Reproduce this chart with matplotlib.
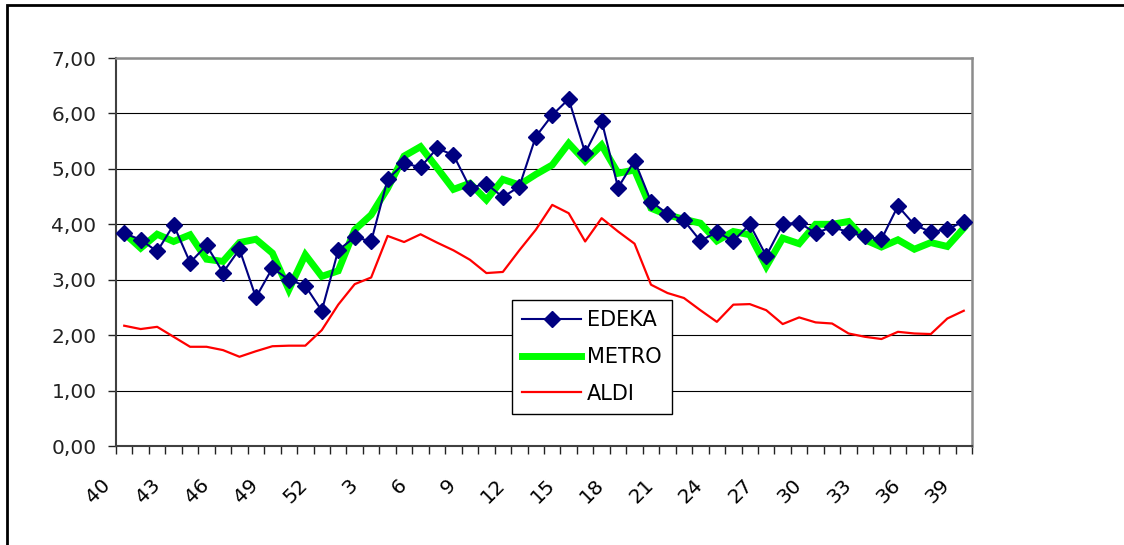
import numpy as np
import matplotlib
matplotlib.use("Agg")
import matplotlib.pyplot as plt
import matplotlib.transforms as mtransforms
from matplotlib.patches import Rectangle

# Kalenderwochen (40/Vorjahr .. 39)
weeks = [40, 41, 42, 43, 44, 45, 46, 47, 48, 49, 50, 51, 52,
         1, 2, 3, 4, 5, 6, 7, 8, 9, 10, 11, 12, 13, 14, 15, 16, 17, 18, 19, 20,
         21, 22, 23, 24, 25, 26, 27, 28, 29, 30, 31, 32, 33, 34, 35, 36, 37, 38, 39]

edeka = [3.84, 3.72, 3.51, 3.99, 3.31, 3.62, 3.13, 3.55, 2.68, 3.21, 3.00, 2.89, 2.44,
         3.53, 3.77, 3.69, 4.81, 5.10, 5.03, 5.37, 5.25, 4.66, 4.73, 4.49, 4.68, 5.58,
         5.97, 6.26, 5.29, 5.87, 4.66, 5.15, 4.41, 4.19, 4.07, 3.70, 3.86, 3.70, 4.00,
         3.43, 4.00, 4.03, 3.84, 3.95, 3.86, 3.78, 3.73, 4.33, 3.99, 3.86, 3.91, 4.05]

metro = [3.84, 3.57, 3.82, 3.69, 3.81, 3.37, 3.33, 3.67, 3.73, 3.48, 2.82, 3.45, 3.06,
         3.16, 3.90, 4.17, 4.65, 5.23, 5.40, 5.02, 4.63, 4.74, 4.44, 4.81, 4.71, 4.90,
         5.07, 5.46, 5.14, 5.43, 4.92, 4.98, 4.29, 4.17, 4.09, 4.02, 3.70, 3.87, 3.81,
         3.24, 3.75, 3.65, 4.00, 4.00, 4.05, 3.72, 3.59, 3.72, 3.55, 3.67, 3.60, 3.93]

aldi = [2.17, 2.11, 2.15, 1.97, 1.79, 1.79, 1.73, 1.61, 1.71, 1.80, 1.81, 1.81, 2.09,
        2.55, 2.92, 3.04, 3.79, 3.68, 3.82, 3.67, 3.53, 3.36, 3.12, 3.14, 3.53, 3.90,
        4.35, 4.20, 3.69, 4.11, 3.87, 3.65, 2.91, 2.76, 2.67, 2.45, 2.24, 2.55, 2.56,
        2.45, 2.20, 2.32, 2.23, 2.21, 2.03, 1.97, 1.93, 2.06, 2.03, 2.02, 2.30, 2.44]

y_ticks = [0, 1, 2, 3, 4, 5, 6, 7]
y_labels = ["0,00", "1,00", "2,00", "3,00", "4,00", "5,00", "6,00", "7,00"]

plt.rcParams["font.family"] = ["DejaVu Sans"]

W, H = 1124, 545
fig = plt.figure(figsize=(W / 100, H / 100), dpi=100)
ax = fig.add_axes([116 / W, 1 - 446 / H, (972 - 116) / W, (446 - 58) / H])

x = np.arange(len(weeks))
ax.plot(x, metro, color="#00ff00", lw=5, solid_joinstyle="miter", label="METRO", zorder=3)
ax.plot(x, aldi, color="#ff0000", lw=1.6, label="ALDI", zorder=3)
ax.plot(x, edeka, color="#000080", lw=1.5, marker="D", ms=7.8, label="EDEKA", zorder=4)

ax.set_xlim(-0.5, len(weeks) - 0.5)
ax.set_ylim(0, 7)

# y-Achse
ax.set_yticks(y_ticks)
ax.set_yticklabels(y_labels, fontsize=14.5, color="#111111")
ax.tick_params(axis="y", direction="out", length=6, width=1, pad=8, colors="#222222")
ax.yaxis.grid(True, color="black", lw=0.8)
ax.set_axisbelow(True)

# x-Achse: Striche zwischen den Kategorien, Beschriftung jede 3. Woche
ax.set_xticks(np.arange(-0.5, len(weeks)), minor=True)
ax.set_xticks(x[::3])
ax.set_xticklabels([str(w) for w in weeks[::3]], fontsize=14.5, rotation=45, ha="right", va="top")
ax.tick_params(axis="x", which="major", length=0, pad=21)
ax.tick_params(axis="x", which="minor", direction="out", length=6, width=1, colors="#222222")
shift = mtransforms.ScaledTranslation(-0.10, 0, fig.dpi_scale_trans)
for lab in ax.get_xticklabels():
    lab.set_transform(lab.get_transform() + shift)

for s in ["left", "bottom"]:
    ax.spines[s].set_color("#404040")
    ax.spines[s].set_linewidth(1.5)
for s in ["top", "right"]:
    ax.spines[s].set_color("#8c8c8c")
    ax.spines[s].set_linewidth(1.8)

h, l = ax.get_legend_handles_labels()
order = [2, 0, 1]
leg = ax.legend([h[i] for i in order], [l[i] for i in order],
                loc="upper left", bbox_to_anchor=(512 / W, 1 - 300 / H),
                bbox_transform=fig.transFigure, fontsize=15, frameon=True,
                fancybox=False, framealpha=1, edgecolor="black",
                handlelength=2.8, handletextpad=0.3, labelspacing=0.8,
                borderpad=0.5, numpoints=1, borderaxespad=0)
leg.get_frame().set_linewidth(1.0)

# Rahmen des Diagrammbereichs
fig.add_artist(Rectangle((7 / W, -0.1), 1.2, 1.1 - 5 / H, transform=fig.transFigure,
                         fill=False, ec="black", lw=2))

fig.savefig("out.png", dpi=100)
